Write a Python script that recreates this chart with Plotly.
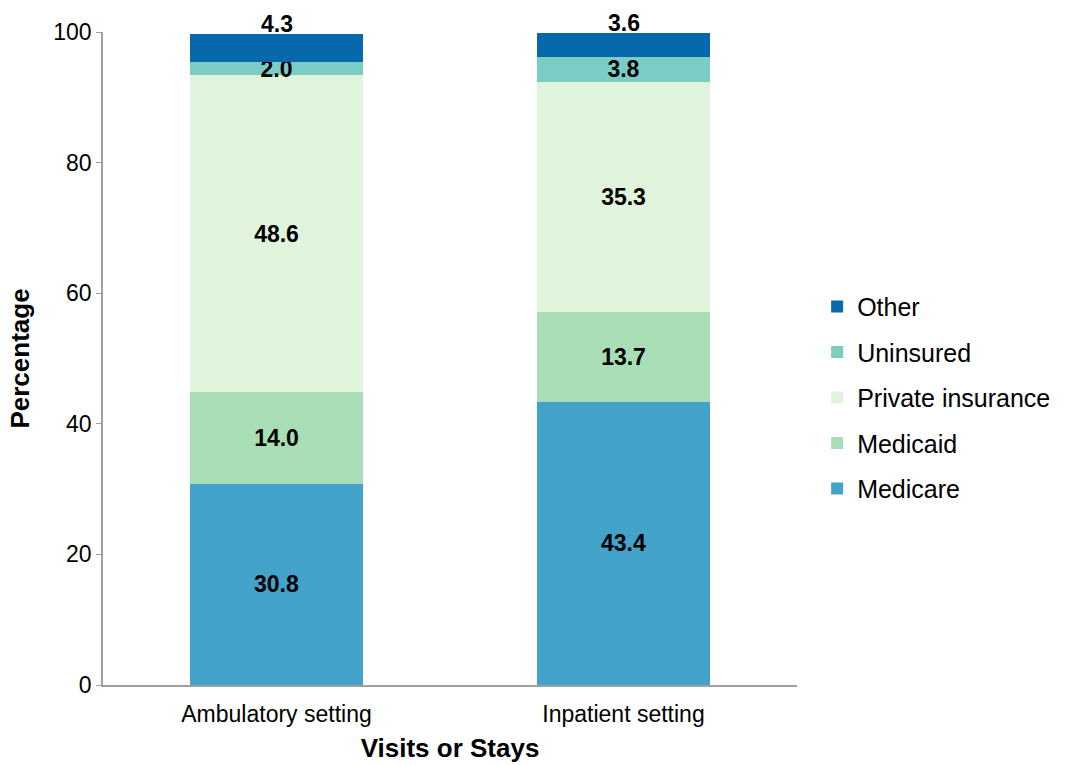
import plotly.graph_objects as go

categories = ["Ambulatory setting", "Inpatient setting"]
series_names = ["Medicare", "Medicaid", "Private insurance", "Uninsured", "Other"]
medicare = [30.8, 43.4]
medicaid = [14.0, 13.7]
private_ins = [48.6, 35.3]
uninsured = [2.0, 3.8]
other = [4.3, 3.6]
y_ticks = [0, 20, 40, 60, 80, 100]

colors = ["#43A2CA", "#A8DDB5", "#E0F3DB", "#7BCCC4", "#0868AC"]
values = [medicare, medicaid, private_ins, uninsured, other]

FONT = "Liberation Sans, Arial, sans-serif"
fig = go.Figure()
n = len(series_names)
for i, (name, vals, col) in enumerate(zip(series_names, values, colors)):
    is_top = (name == "Other")
    fig.add_trace(go.Bar(
        x=categories, y=vals, name=name, marker_color=col,
        marker_line_width=0, width=0.5, legendgroup=name,
        legendrank=1000 + (n - i),
        text=None if is_top else [f"{v:.1f}" for v in vals],
        textposition="inside", insidetextanchor="middle",
        textfont=dict(family=FONT, size=23, color="black", weight="bold"),
        constraintext="none", cliponaxis=False,
    ))

# Labels for top segment placed above bars
for ci, cat in enumerate(categories):
    total = sum(v[ci] for v in values)
    fig.add_annotation(x=cat, y=total, text=f"<b>{other[ci]:.1f}</b>",
                       showarrow=False, yanchor="bottom", yshift=-5,
                       font=dict(family=FONT, size=23, color="black"))

fig.update_layout(
    barmode="stack",
    width=1065, height=765,
    margin=dict(l=103, r=268, t=32, b=80, autoexpand=False),
    plot_bgcolor="white", paper_bgcolor="white",
    font=dict(family=FONT, size=23, color="black"),
    bargap=0.5,
    legend=dict(traceorder="grouped", x=1.029, xanchor="left", y=0.44, yanchor="middle",
                font=dict(size=25), tracegroupgap=10, itemwidth=30),
    xaxis=dict(
        title=dict(text="<b>Visits or Stays</b>", font=dict(size=26), standoff=12),
        showline=True, linecolor="#A0A0A0", linewidth=1.5,
        ticks="outside", ticklen=8, tickcolor="rgba(0,0,0,0)", tickfont=dict(size=23),
    ),
    yaxis=dict(
        title=dict(text="<b>Percentage</b>", font=dict(size=26), standoff=16),
        range=[0, 100], tickvals=y_ticks, showgrid=False, zeroline=False,
        showline=True, linecolor="#A0A0A0", linewidth=1.5,
        ticks="outside", ticklen=5, tickcolor="#A0A0A0", tickfont=dict(size=23),
    ),
)
fig.write_html("out.html")
